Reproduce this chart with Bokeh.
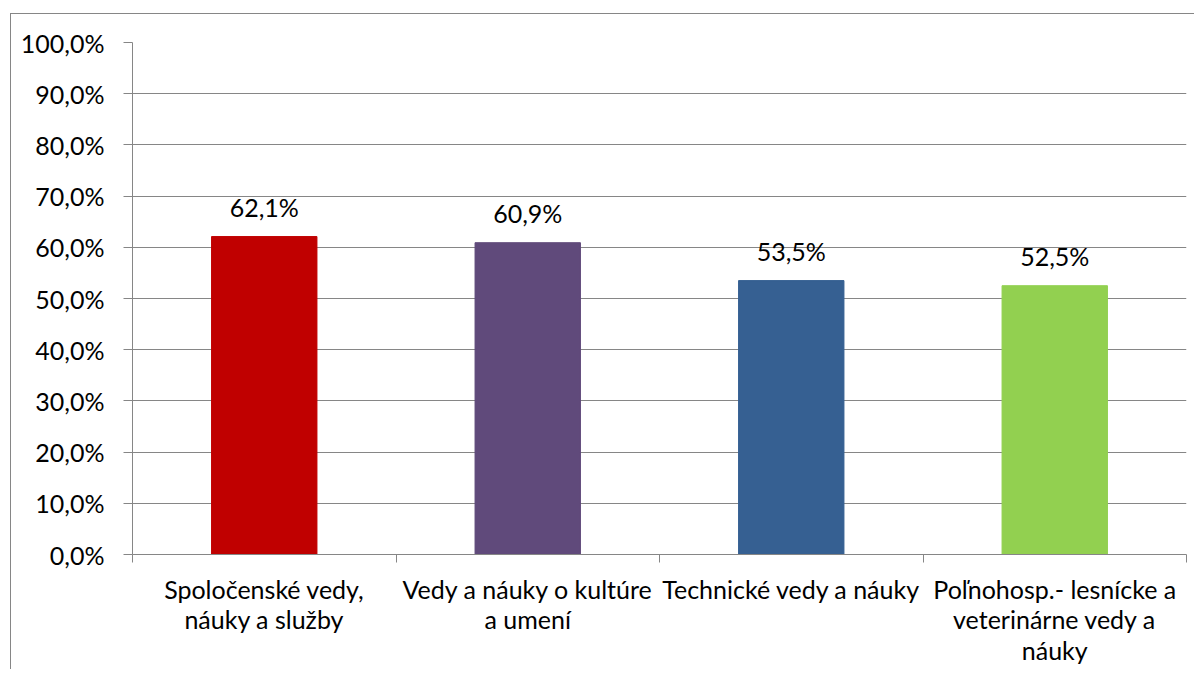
from bokeh.plotting import figure
from bokeh.models import Range1d, FixedTicker, ColumnDataSource
from bokeh.core.properties import value
from bokeh.embed import file_html
from bokeh.resources import INLINE

categories = [
    "Spoločenské vedy,\nnáuky a služby",
    "Vedy a náuky o kultúre\na umení",
    "Technické vedy a náuky",
    "Poľnohosp.- lesnícke a\nveterinárne vedy a\nnáuky",
]
values = [62.1, 60.9, 53.5, 52.5]
colors = ["#C00000", "#604A7B", "#366092", "#92D050"]
y_ticks = [0, 10, 20, 30, 40, 50, 60, 70, 80, 90, 100]

FONT = "Lato"
GREY = "#868686"

xs = [i + 0.5 for i in range(len(categories))]
labels = [f"{v:.1f}%".replace(".", ",") for v in values]
src = ColumnDataSource(dict(x=xs, top=values, color=colors, label=labels))

p = figure(width=1184, height=656, output_backend="svg", toolbar_location=None,
           x_range=Range1d(0, len(categories)), y_range=Range1d(0, 100),
           min_border_left=121, min_border_right=9, min_border_top=28, min_border_bottom=116)
p.styles = {"margin-left": "10px", "margin-top": "13px",
            "border-left": f"1px solid {GREY}", "border-top": f"1px solid {GREY}"}
p.outline_line_color = None
p.background_fill_color = "white"
p.border_fill_color = "white"

p.vbar(x="x", top="top", width=0.4, bottom=0, color="color", source=src)
p.text(x="x", y="top", text="label", source=src, text_align="center",
       text_baseline="alphabetic", y_offset=-30, text_font=value(FONT),
       text_font_size="25px", text_color="#000000")

# y axis
p.yaxis.ticker = FixedTicker(ticks=y_ticks)
p.yaxis.major_label_overrides = {t: f"{t:.1f}%".replace(".", ",") for t in y_ticks}
p.yaxis.axis_line_color = GREY
p.yaxis.major_tick_line_color = GREY
p.yaxis.major_tick_out = 9
p.yaxis.major_tick_in = 0
p.yaxis.minor_tick_line_color = None
p.yaxis.major_label_standoff = 19
p.yaxis.major_label_text_font = FONT
p.yaxis.major_label_text_font_size = "25px"
p.yaxis.major_label_text_color = "#000000"

# x axis: labels at centers, tick marks at category boundaries
p.xaxis.ticker = FixedTicker(ticks=xs, minor_ticks=list(range(len(categories) + 1)))
p.xaxis.major_label_overrides = {x: c for x, c in zip(xs, categories)}
p.xaxis.axis_line_color = GREY
p.xaxis.major_tick_line_color = None
p.xaxis.major_tick_out = 0
p.xaxis.major_tick_in = 0
p.xaxis.minor_tick_line_color = GREY
p.xaxis.minor_tick_out = 8
p.xaxis.minor_tick_in = 0
p.xaxis.major_label_standoff = 11
p.xaxis.major_label_text_font = FONT
p.xaxis.major_label_text_font_size = "25px"
p.xaxis.major_label_text_line_height = 1.03
p.xaxis.major_label_text_color = "#000000"

p.xgrid.grid_line_color = None
p.ygrid.grid_line_color = GREY
p.ygrid.grid_line_width = 1

open("out.html", "w").write(file_html(p, INLINE))
